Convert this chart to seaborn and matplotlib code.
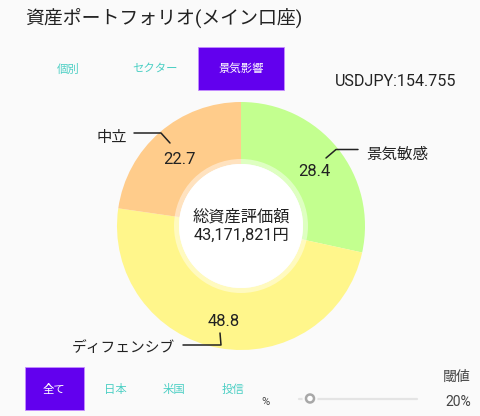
import matplotlib
matplotlib.use("Agg")
import matplotlib.pyplot as plt
import seaborn as sns
from matplotlib.patches import Rectangle, Circle

# values
categories = ['景気敏感', 'ディフェンシブ', '中立']
values = [28.4, 48.8, 22.7]
colors = ['#C3FF8F', '#FFF68B', '#FFCC8B']
top_tabs = ['個別', 'セクター', '景気影響']
bottom_tabs = ['全て', '日本', '米国', '投信']
title = '資産ポートフォリオ(メイン口座)'
center_label = '総資産評価額'
total_label = '43,171,821円'
rate_label = 'USDJPY:154.755'
threshold = 20

sns.set_theme(style="white")
plt.rcParams['font.family'] = ['Roboto', 'Noto Sans CJK JP', 'DejaVu Sans']

bg = '#FAFAFA'
purple = '#6200EE'
teal = '#4CCFC4'
dark = '#222222'

fig = plt.figure(figsize=(4.8, 4.16), dpi=100, facecolor=bg)
ax = fig.add_axes([0, 0, 1, 1])
ax.set_facecolor(bg)

cx, cy = 241, 416 - 226

# donut
ax.pie(values, colors=sns.color_palette(colors), startangle=90, counterclock=False,
       center=(cx, cy), radius=124, frame=True,
       wedgeprops=dict(width=124 - 62, linewidth=0))
ax.add_patch(Circle((cx, cy), 67, color='white', alpha=0.45, lw=0, zorder=3))
ax.add_patch(Circle((cx, cy), 62, color='white', lw=0, zorder=4))
ax.set_xlim(0, 480)
ax.set_ylim(0, 416)
ax.set_aspect('auto')
ax.axis('off')


def y(p):
    return 416 - p


def label(px, py, s, size, color=dark, ha='center'):
    ax.text(px, y(py), s, fontsize=size, color=color, ha=ha, va='center', zorder=6)


# slice values
label(314, 171, f'{values[0]}', 12)
label(224, 321, f'{values[1]}', 12)
label(180, 160, f'{values[2]}', 12)

# leader lines
leaders = [
    ([326, 336, 358], [158, 149.5, 149.5], categories[0], 366, 154, 'left', 11.2),
    ([220, 221, 183], [333, 345, 345], categories[1], 175, 348, 'right', 10.6),
    ([170, 161, 134], [143, 133, 133], categories[2], 127, 138, 'right', 11),
]
for xs, ys, name, tx, ty, ha, size in leaders:
    ax.plot(xs, [y(v) for v in ys], color=dark, lw=1.1, zorder=5)
    label(tx, ty, name, size, ha=ha)

# centre text
label(241, 217, center_label, 11.7)
label(241, 235, total_label, 11.7)

# header
label(25, 18, title, 13.6, ha='left')
label(396, 81, rate_label, 11.6)

# top tabs
ax.add_patch(Rectangle((198, y(90)), 86, 43, fc=purple, ec='#C58CFF', lw=0.6, zorder=2))
for px, s, c in zip([68, 155, 241], top_tabs, [teal, teal, 'white']):
    label(px, 69, s, 8.2, color=c)

# bottom tabs
ax.add_patch(Rectangle((25, y(410)), 59, 43, fc=purple, ec='#C58CFF', lw=0.6, zorder=2))
for px, s, c in zip([54, 115, 174, 233], bottom_tabs, ['white', teal, teal, teal]):
    label(px, 389, s, 8.2, color=c)

# threshold slider
label(266, 402, '%', 8, color='#444444')
ax.plot([299, 417], [y(398.5)] * 2, color='#E4E4E4', lw=1.6, solid_capstyle='round', zorder=2)
ax.add_patch(Circle((310, y(398.5)), 7.5, fc=bg, lw=0, zorder=3))
ax.add_patch(Circle((310, y(398.5)), 4, fc='white', ec='#A8A8A8', lw=1.8, zorder=4))
label(457, 377, '閾値', 10, color='#444444')
label(458, 402, f'{threshold}%', 10, color='#444444')

fig.savefig('out.png', dpi=100, facecolor=bg)
